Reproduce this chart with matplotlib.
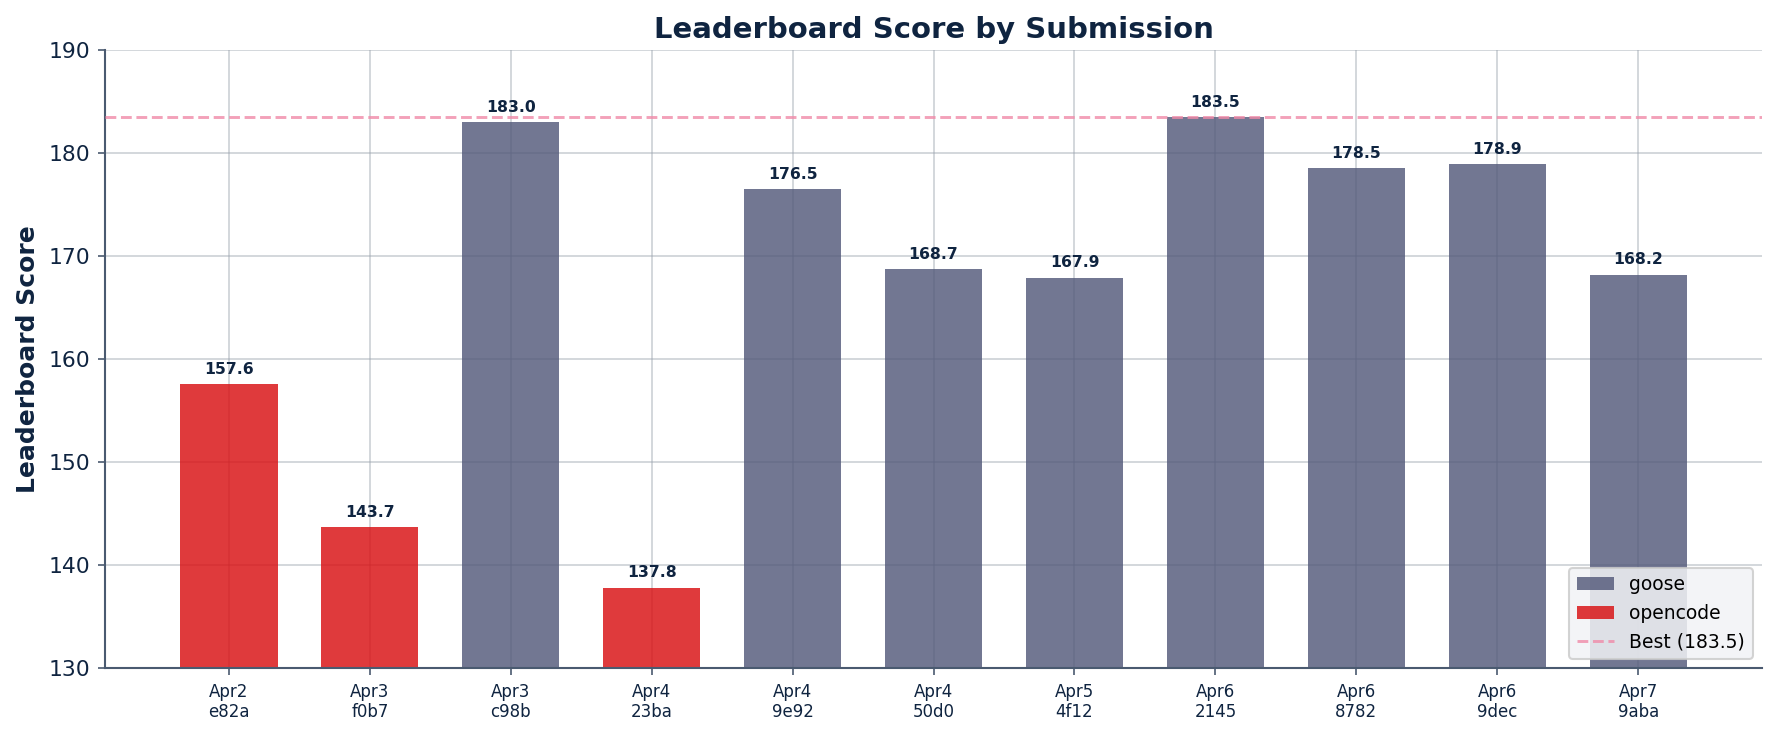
import matplotlib

matplotlib.use("Agg")
import matplotlib.pyplot as plt
from matplotlib.patches import Patch
from matplotlib.lines import Line2D

# submissions, in order
dates = ["Apr2", "Apr3", "Apr3", "Apr4", "Apr4", "Apr4", "Apr5", "Apr6", "Apr6", "Apr6", "Apr7"]
hashes = ["e82a", "f0b7", "c98b", "23ba", "9e92", "50d0", "4f12", "2145", "8782", "9dec", "9aba"]
agents = ["opencode", "opencode", "goose", "opencode", "goose", "goose", "goose",
          "goose", "goose", "goose", "goose"]
scores = [157.6, 143.7, 183.0, 137.8, 176.5, 168.7, 167.9, 183.5, 178.5, 178.9, 168.2]

NAVY = "#0f2440"
AGENT_COLORS = {"goose": "#53597a", "opencode": "#d90f11"}
BEST_COLOR = "#f08aa8"

fig = plt.figure(figsize=(1777 / 150, 736 / 150), dpi=150)
ax = fig.add_axes([0.0591, 0.0924, 0.9325, 0.8396])

x = list(range(len(scores)))
ax.bar(x, scores, width=0.69, color=[AGENT_COLORS[a] for a in agents],
       alpha=0.82, zorder=2)
for xi, s in zip(x, scores):
    ax.text(xi, s + 0.7, f"{s:.1f}", ha="center", va="bottom",
            fontsize=7.5, fontweight="bold", color=NAVY, zorder=4)

best = max(scores)
ax.axhline(best, color=BEST_COLOR, ls="--", lw=1.4, alpha=0.8, zorder=3)

ax.set_ylim(130, 190)
ax.set_xticks(x)
ax.set_xticklabels([f"{d}\n{h}" for d, h in zip(dates, hashes)], fontsize=8, color=NAVY)
ax.tick_params(axis="y", labelsize=10.5, colors=NAVY)
ax.tick_params(axis="x", colors=NAVY)
ax.tick_params(axis="both", color="#4a5a70")

ax.grid(True, color="#9aa3ad", alpha=0.5, lw=0.8, zorder=1)
ax.set_axisbelow(True)
for side in ("top", "right"):
    ax.spines[side].set_visible(False)
for side in ("left", "bottom"):
    ax.spines[side].set_color("#4a5a70")
    ax.spines[side].set_linewidth(1.0)

ax.set_ylabel("Leaderboard Score", fontsize=12, fontweight="bold", color=NAVY)
ax.set_title("Leaderboard Score by Submission", fontsize=14, fontweight="bold",
             color=NAVY, pad=6)

handles = [
    Patch(facecolor=AGENT_COLORS["goose"], alpha=0.82, label="goose"),
    Patch(facecolor=AGENT_COLORS["opencode"], alpha=0.82, label="opencode"),
    Line2D([0], [0], color=BEST_COLOR, ls="--", lw=1.4, alpha=0.8,
           label=f"Best ({best:.1f})"),
]
leg = ax.legend(handles=handles, loc="lower right", fontsize=9, framealpha=0.85,
                facecolor="#f2f3f6", edgecolor="#cccccc")

fig.savefig("out.png", dpi=150)
